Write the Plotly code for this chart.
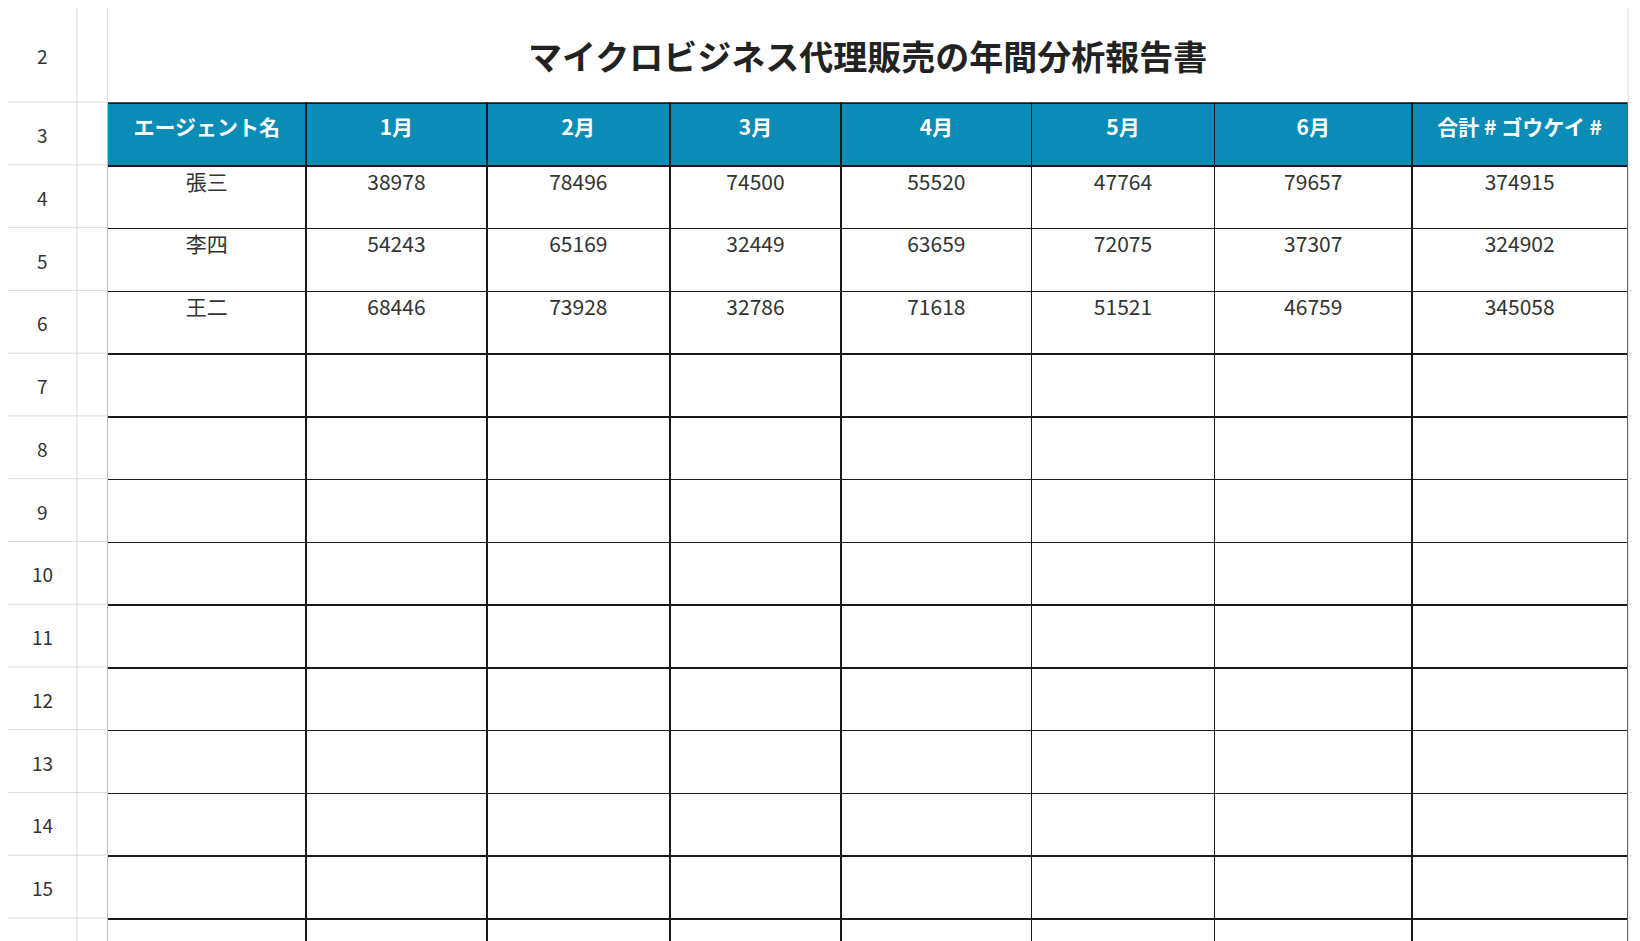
import plotly.graph_objects as go

W, H = 1640, 941
S = 1640 / 1568

title = "マイクロビジネス代理販売の年間分析報告書"
headers = ["エージェント名", "1月", "2月", "3月", "4月", "5月", "6月", "合計 # ゴウケイ #"]
agents = ["張三", "李四", "王二"]
jan = [38978, 54243, 68446]
feb = [78496, 65169, 73928]
mar = [74500, 32449, 32786]
apr = [55520, 63659, 71618]
may = [47764, 72075, 51521]
jun = [79657, 37307, 46759]
total = [374915, 324902, 345058]
row_numbers = list(range(2, 17))
n_empty = 10

col_edges = [95, 285, 458, 633, 797, 979, 1154, 1343, 1549]
col_widths = [b - a for a, b in zip(col_edges[:-1], col_edges[1:])]

columns = [agents, jan, feb, mar, apr, may, jun, total]
cells = [[str(v) for v in c] + [""] * n_empty for c in columns]

font = "Noto Sans CJK JP"
cell_h = 60 * S

fig = go.Figure(go.Table(
    domain=dict(x=[col_edges[0] * S / W, col_edges[-1] * S / W],
                y=[0, 1 - 91 * S / H]),
    columnwidth=col_widths,
    header=dict(values=[f"<b>{h}</b>" for h in headers],
                fill_color="#0A8CB7", line=dict(color="#1a1a1a", width=1.5),
                font=dict(color="white", size=21, family=font),
                align="center", height=cell_h),
    cells=dict(values=cells, fill_color="white",
               line=dict(color="#1a1a1a", width=1.5),
               font=dict(color="#333333", size=21, family=font),
               align="center", height=cell_h),
))

shapes = []
grid = dict(color="#dcdcdc", width=1)
# spreadsheet gutter lines
for x in [66, 95, 1549]:
    shapes.append(dict(type="line", xref="paper", yref="paper",
                       x0=x * S / W, x1=x * S / W, y0=0, y1=1, line=grid))
for j in range(15):
    y = 1 - (90 + 60 * j) * S / H
    shapes.append(dict(type="line", xref="paper", yref="paper",
                       x0=0, x1=95 * S / W, y0=y, y1=y, line=grid))
    shapes.append(dict(type="line", xref="paper", yref="paper",
                       x0=1549 * S / W, x1=1, y0=y, y1=y, line=grid))

annotations = [dict(text=f"<b>{title}</b>", x=(95 + 1549) / 2 * S / W,
                    y=1 - 45 * S / H, xref="paper", yref="paper",
                    xanchor="center", yanchor="middle",
                    showarrow=False, font=dict(size=34, family=font, color="#222"))]
for i, n in enumerate(row_numbers):
    yc = 45 if n == 2 else 121 + (n - 3) * 60
    annotations.append(dict(text=str(n), x=33 * S / W, y=1 - yc * S / H,
                            xref="paper", yref="paper", showarrow=False,
                            xanchor="center", yanchor="middle",
                            font=dict(size=19, family=font, color="#333")))

fig.update_layout(width=W, height=H, margin=dict(l=0, r=0, t=0, b=0),
                  paper_bgcolor="white", shapes=shapes, annotations=annotations)
fig.write_html("out.html")
